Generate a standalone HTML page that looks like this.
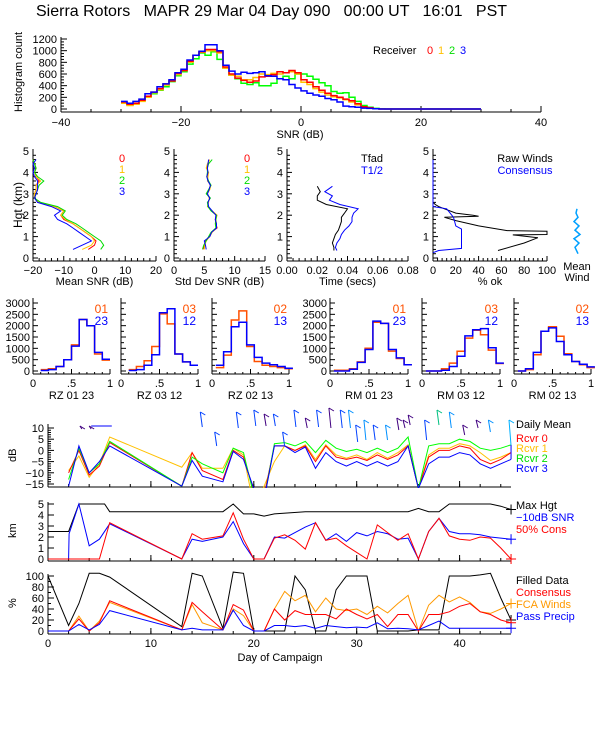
<!DOCTYPE html>
<html><head><meta charset="utf-8"><style>
html,body{margin:0;padding:0;background:#fff;}
svg{display:block;font-family:"Liberation Sans",sans-serif;}
</style></head><body>
<svg id="chart" width="600" height="750" viewBox="0 0 600 750" xmlns="http://www.w3.org/2000/svg">
<rect x="0" y="0" width="600" height="750" fill="#fff"/>
<text x="36" y="16" font-size="16" fill="#000" style="white-space:pre">Sierra Rotors   MAPR 29 Mar 04 Day 090   00:00 UT   16:01   PST</text>
<defs><clipPath id="clipDM"><rect x="48" y="400" width="470" height="88"/></clipPath></defs>
</svg>
<script>
// ---------- DATA ----------
const snrBinStart = -30;
const snrRcvr0 = [120,80,100,150,220,290,350,430,480,610,660,820,920,980,1020,1020,980,720,600,530,490,460,480,550,560,590,640,620,660,620,500,460,380,320,270,230,200,170,140,90,40,20,5,0,0,0,0,0,0,0,0,0,0,0,0,0,0,0,0,0];
const snrRcvr1 = [100,60,80,130,200,280,330,410,490,590,660,800,920,970,1000,1000,960,700,580,560,500,500,540,600,590,610,600,620,640,600,460,420,350,290,240,210,190,160,120,70,30,15,5,0,0,0,0,0,0,0,0,0,0,0,0,0,0,0,0,0];
const snrRcvr2 = [110,70,90,140,200,260,320,380,470,570,640,770,860,960,920,980,850,700,580,520,440,420,450,400,400,440,520,560,520,600,600,560,510,450,400,300,270,280,200,130,60,30,10,5,0,0,0,0,0,0,0,0,0,0,0,0,0,0,0,0];
const snrRcvr3 = [130,100,130,170,260,290,380,430,500,620,680,840,920,990,1100,1100,1000,750,650,600,630,610,620,640,570,560,520,500,420,360,310,270,240,220,180,160,120,50,40,30,15,10,5,0,0,0,0,0,0,0,0,0,0,0,0,0,0,0,0,0];
const snrTicks = [-40,-20,0,20,40];
const countTicks = [0,200,400,600,800,1000,1200];

const profHgt = [0.4,0.6,0.8,1.0,1.2,1.4,1.6,1.8,2.0,2.2,2.4,2.6,2.8,3.0,3.2,3.4,3.6,3.8,4.0,4.2,4.4,4.6];
const meanSnr0 = [-2,0,0.5,-1,-3,-5,-7,-10,-11,-10,-13,-18,-19.5,-19.5,-19,-19,-18,-19,-19.5,-19,-19.5,-20];
const meanSnr1 = [-4,-1,0,-1,-3,-5,-7,-9.5,-11,-10,-13,-18,-19.5,-19.5,-19,-19,-17.5,-19,-19.5,-19,-19.5,-20];
const meanSnr2 = [2,3,2,0,-2,-4,-6,-9,-10.5,-9.5,-12,-17.5,-19.5,-19,-18.5,-18,-16.5,-18.5,-19.5,-19,-19.5,-20];
const meanSnr3 = [-7,-4,-1,-3,-5,-7,-9,-12,-13,-11,-14,-18.5,-19.5,-19,-18.5,-18.5,-18.5,-19.5,-20,-19.5,-20,-19];
const sdSnr0 = [4.8,5.0,5.2,5.8,6.2,7.1,6.9,6.8,7.0,6.2,5.6,5.6,5.9,5.4,5.8,6.0,5.6,5.5,5.6,5.4,5.6,5.8];
const sdSnr1 = [5.0,5.1,5.3,5.9,6.3,7.0,7.0,6.9,7.1,6.3,5.5,5.7,5.8,5.5,5.9,6.1,5.5,5.6,5.7,5.3,5.5,5.9];
const sdSnr2 = [4.7,4.9,5.3,5.7,6.1,6.9,6.8,6.9,7.0,6.1,5.6,5.5,6.0,5.3,5.7,6.1,5.7,5.4,5.5,5.5,5.7,6.3];
const sdSnr3 = [5.3,5.2,5.0,5.9,6.2,7.0,7.0,6.8,6.9,6.3,5.7,5.6,5.9,5.5,5.8,6.0,5.6,5.4,5.6,5.5,5.6,5.7];
const timeHgt = [0.35,0.5,0.7,0.9,1.1,1.3,1.5,1.7,1.9,2.1,2.3,2.5,2.7,2.9,3.1,3.35];
const tfad = [0.031,0.031,0.030,0.031,0.032,0.034,0.035,0.036,0.036,0.038,0.040,0.026,0.020,0.020,0.022,0.020];
const thalf = [0.033,0.032,0.033,0.035,0.036,0.038,0.041,0.043,0.043,0.044,0.047,0.035,0.028,0.030,0.025,0.030];
const rawHgt = [0.35,0.7,0.95,1.08,1.1,1.25,1.28,1.5,1.75,1.9,1.95,2.0,2.1,2.3,2.4,2.5,2.6,3.0,4.6];
const rawWinds = [57,80,92,70,100,100,65,40,20,10,40,35,20,10,5,2,0,0,0];
const consHgt = [0.25,0.35,0.45,0.5,1.35,1.5,1.9,2.3,2.4,2.6,3.5,4.6];
const consWinds = [0,5,25,25,25,20,18,12,0,0,0,0];
const kmTicks = [0,1,2,3,4,5];

const corrBinStart = [0.1,0.1,0.05,0.05,0.05,0.05];
const corrA = [
  [60,100,200,500,1150,2270,2000,750,480],
  [60,200,450,1080,2520,2080,750,400,250],
  [150,700,2250,2650,1080,420,250,200,150,100],
  [30,30,100,400,1000,2150,2100,880,550,280],
  [0,0,100,350,870,1450,1800,1600,920,330],
  [0,60,720,1750,1950,1530,760,420,280,150]];
const corrB = [
  [20,60,200,500,1100,2270,2000,820,520],
  [20,60,250,720,2570,2750,750,400,250],
  [250,850,1950,2150,1150,600,350,280,200,120],
  [0,0,80,380,950,2200,2100,950,580,280],
  [0,0,30,200,650,1550,1820,1870,1030,350],
  [0,100,820,1750,1900,1300,720,420,300,180]];
const corrTitles = ["RZ  01 23","RZ  03 12","RZ  02 13","RM  01 23","RM  03 12","RM  02 13"];
const corrLegA = ["01","03","02","01","03","02"];
const corrLegB = ["23","12","13","23","12","13"];
const corrTicks = [0,500,1000,1500,2000,2500,3000];

const days = [2,3,4,5,6,13,14,15,17,18,19,20,21,22,23,24,25,26,27,28,29,30,31,32,33,34,35,36,37,38,39,40,41,42,43,44,45];
const dm0 = [-10,0,-11,-7,3.5,-16,-1,-9,-13,0,-3,-18,-20,2,2,0,2,-5,2,-3,-4,-3,-4.5,-2,-4,-2,2,-17,-3,0,0,2,1,-4,-6,-4,-1];
const dm1 = [-9,-2.5,-12,-6,6,-7.5,-1,-8,-8,1,-2,-25,-16,-5,2,0,2.5,-4,2.5,-2,-3.5,-2,-4,-1,-3.5,-1,2.5,-17,-2,1,1,3,2,-1,-4.5,-3,-1];
const dm2 = [-13,1,-10,-6,4,-16,-3,-6,-10,1,-1,-20,-22,3,3.5,2,4,-1,4.5,1,-0.5,0.5,-1,1,-1,1,6,-17,2,3,3,5,4,1,0,1,2.5];
const dm3 = [-16,2,-10,-5,2,-16,-4.5,-11.5,-14,-0.5,-4,-17,-22,2,2,-1,1.5,-8,-1,-5,-7,-5,-7,-5,-7,-5,2,-17,-6,-3,-3,-1,-2,-6,-8,-6,-4];
const dbTicks = [-15,-10,-5,0,5,10];

const hgtDays = [0,2,3,5.5,6,17,18,19,20,21,22,25,35,36,37,38,39,43,44,45];
const maxHgt = [2.5,2.5,5,5,4.3,4.3,5,4.1,4.1,3.9,4.1,4.3,4.3,4.6,4.3,4.3,5,5,4.8,4.5];
const snrDays = [0,2,2.05,3,4,5,6,13,14,15,17,18,19,20,21,22,23,24,25,26,27,28,29,30,31,32,33,34,35,36,37,38,39,40,41,42,43,44,45];
const snrHgt = [0,0,2.3,5,1.2,1.8,3.2,0,1.8,1.6,2,3.4,1.4,0,0,2,1.9,2.4,2.9,3.3,1.7,2.3,1.6,2.4,2.1,2.5,2.3,1.8,1.9,0,2.5,3.7,2.5,2.3,2.3,2.2,2.0,1.9,1.8];
const consDays = [0,3,4,5,6,13,14,15,17,18,19,20,21,22,23,24,25,26,27,28,29,30,31,32,33,34,35,36,37,38,39,40,41,42,43,44,45];
const consHgtD = [0,0,0,0,3.3,0,2.3,1.8,2.1,4.2,1.8,0,0,1.9,2.2,1.7,0.9,3.3,1.7,1.9,1.2,0.6,0,3.1,2.4,1.7,2.3,0,2.5,3.7,2.1,1.8,1.7,2.0,1.9,1.0,0];

const pctDays = [0,1,2,3,4,5,6,13,14,15,17,18,19,20,21,22,23,24,25,26,27,28,29,30,31,32,33,34,35,36,37,38,39,40,41,42,43,44,45];
const filled = [100,55,10,50,105,105,98,8,105,100,5,107,105,0,0,0,0,100,75,0,0,75,100,100,100,0,0,0,0,2,2,2,100,100,100,102,105,60,20];
const consPct = [0,0,0,22,0,15,55,2,52,35,2,48,38,0,0,40,20,37,30,30,30,22,40,30,22,30,8,30,30,0,30,30,35,45,50,35,30,20,15];
const fcaPct = [0,0,0,27,0,18,52,2,48,15,2,40,28,0,0,40,72,55,65,35,60,40,37,40,30,45,33,50,65,0,47,65,53,62,52,35,32,40,50];
const precipPct = [0,0,0,12,2,12,37,2,5,2,2,38,10,0,0,10,10,8,10,5,10,8,6,7,6,15,4,5,4,2,10,18,5,5,5,5,5,5,5];
const pctTicks = [0,20,40,60,80,100];
const dayTicks = [0,10,20,30,40];

const barbDay = [3.1,4.0,14.8,16.2,18.3,20.0,21.0,21.9,22.8,23.9,25.0,26.1,27.3,28.4,29.2,29.9,30.7,31.6,32.8,33.9,34.5,35.0,36.6,37.8,39.0,40.3,41.6,42.8,44.8];
const barbTop = [426,426,412,432,412,410,414,414,432,410,418,410,408,410,410,425,420,425,425,418,420,415,420,410,412,425,420,420,420];
const barbBot = [429,429,427,446,428,426,426,426,446,427,428,427,428,428,428,442,440,440,440,430,428,425,440,425,428,435,428,432,445];
const barbCol = ["#400080","#400080","#0040ff","#0040ff","#0040ff","#0040ff","#400080","#0040ff","#0040ff","#0040ff","#400080","#0040ff","#400080","#0040ff","#0090ff","#0040ff","#0090ff","#0040ff","#0090ff","#400080","#400080","#400080","#0040ff","#00c080","#0090ff","#400080","#400080","#0090ff","#00b0ff"];

const windHgt = [0.2,0.5,0.7,0.9,1.1,1.3,1.5,1.7,1.9,2.1,2.3];
const windOff = [1,-2,2,-3,3,-2,2,-3,1,-1,0];

// ---------- DRAWING ----------
const NS = "http://www.w3.org/2000/svg";
const svg = document.getElementById('chart');
function mk(tag, attrs, parent){ const e=document.createElementNS(NS,tag); for(const k in attrs) e.setAttribute(k,attrs[k]); (parent||svg).appendChild(e); return e; }
function txt(x,y,s,anchor,color,size,rot){ const e=mk('text',{x:x,y:y,'font-size':size||11,fill:color||'#000','text-anchor':anchor||'start'}); if(rot) e.setAttribute('transform','rotate(-90 '+x+' '+y+')'); e.textContent=s; return e; }
function ln(x1,y1,x2,y2,c,w){ return mk('line',{x1:x1,y1:y1,x2:x2,y2:y2,stroke:c||'#000','stroke-width':w||1}); }
function poly(xs,ys,fx,fy,c,w,parent){ let p=''; for(let i=0;i<xs.length;i++) p+=fx(xs[i]).toFixed(1)+','+fy(ys[i]).toFixed(1)+' '; return mk('polyline',{points:p,fill:'none',stroke:c,'stroke-width':w||1},parent); }
function stepPath(start,w,vals,fx,fy,c,sw){ let d='M'+fx(start).toFixed(1)+','+fy(vals[0]).toFixed(1); for(let i=0;i<vals.length;i++){ if(i>0) d+=' V'+fy(vals[i]).toFixed(1); d+=' H'+fx(start+(i+1)*w).toFixed(1);} return mk('path',{d:d,fill:'none',stroke:c,'stroke-width':sw||1.5}); }
function plus(x,y,c){ ln(x-5,y,x+5,y,c); ln(x,y-5,x,y+5,c); }

// --- top histogram ---
const hx = v=>61+(v+40)*6, hy = c=>109-c*70/1200;
let e;
e=ln(61,112,541,112);  
e=ln(61,112,61,37);  
for(let v=-40;v<=40;v+=5) ln(hx(v),112,hx(v),v%20===0?106:109);
snrTicks.forEach(v=>{ e=txt(hx(v),126,String(v).replace('-','\u2212'),'middle');   });
for(let c=0;c<=1200;c+=50) ln(61,hy(c),c%200===0?67:64,hy(c));
countTicks.forEach(c=>{ e=txt(57,hy(c)+4,String(c),'end');   });
e=txt(300,138,'SNR (dB)','middle');  
e=txt(22,112,'Histogram count','start','#000',11,true);  
[[snrRcvr2,'#00ff00'],[snrRcvr1,'#ffc000'],[snrRcvr0,'#ff0000'],[snrRcvr3,'#0000ff']].forEach((s,i)=>{ e=stepPath(snrBinStart,1,s[0],hx,hy,s[1],1.5);   });
e=txt(373,54,'Receiver','start');  
[['0','#ff0000'],['1','#ffc000'],['2','#00dd00'],['3','#0000ff']].forEach((l,i)=>{ e=txt(427+i*11,54,l[0],'start',l[1]);   });

// --- profile panels ---
const py = h=>258-h*107/5;
function profAxes(x0,x1,xt,xl,fx,title,showHgt){
  e=ln(x0,261,x1,261);  
  e=ln(x0,261,x0,149);  
  for(let h=0;h<=5;h+=0.2){ const maj=Math.abs(h-Math.round(h))<0.01; ln(x0,py(h),x0+(maj?5:3),py(h)); }
  kmTicks.forEach(h=>{ e=txt(x0-4,py(h)+4,String(h),'end');   });
  xt.forEach((v,i)=>{ ln(fx(v),261,fx(v),256); e=txt(fx(v),274,xl[i],'middle');   });
  for(let i=0;i<xt.length-1;i++){ for(let k=1;k<5;k++){ const v=xt[i]+(xt[i+1]-xt[i])*k/5; ln(fx(v),261,fx(v),258);} }
  e=txt((x0+x1)/2,285,title,'middle');  
}
const p1x=v=>33+(v+20)*123/40, p2x=v=>174+v*91/15, p3x=v=>287+v*121/0.08, p4x=v=>433+v*1.14;
profAxes(33,156,[-20,-10,0,10,20],['\u221220','\u221210','0','10','20'],p1x,'Mean SNR (dB)');
profAxes(174,265,[0,5,10,15],['0','5','10','15'],p2x,'Std Dev SNR (dB)');
profAxes(287,408,[0,0.02,0.04,0.06,0.08],['0.00','0.02','0.04','0.06','0.08'],p3x,'Time (secs)');
profAxes(433,547,[0,20,40,60,80,100],['0','20','40','60','80','100'],p4x,'% ok');
e=txt(22,228,'Hgt (km)','start','#000',12,true);  
const rc=['#ff0000','#ffc000','#00dd00','#0000ff'];
[meanSnr0,meanSnr1,meanSnr2,meanSnr3].forEach((s,i)=>{ e=poly(s,profHgt,p1x,py,rc[i],1);   });
[sdSnr0,sdSnr1,sdSnr2,sdSnr3].forEach((s,i)=>{ e=poly(s,profHgt,p2x,py,rc[i],1);   });
['0','1','2','3'].forEach((l,i)=>{ e=txt(122,162+i*11,l,'middle',rc[i]);  
  e=txt(247,162+i*11,l,'middle',rc[i]);   });
e=poly(tfad,timeHgt,p3x,py,'#000',1);  
e=poly(thalf,timeHgt,p3x,py,'#0000ff',1);  
e=txt(372,162,'Tfad','middle');  
e=txt(372,174,'T1/2','middle','#0000ff');  
e=poly(rawWinds,rawHgt,p4x,py,'#000',1);  
e=poly(consWinds,consHgt,p4x,py,'#0000ff',1);  
e=txt(525,162,'Raw Winds','middle');  
e=txt(525,174,'Consensus','middle','#0000ff');  
e=poly(windOff,windHgt,v=>577+v,py,'#00a0ff',1.5);  
e=txt(577,270,'Mean','middle');  
e=txt(577,281,'Wind','middle');  

// --- correlation histograms ---
const cX0=[33,121,212,330,422,514], cX1=[110,198,289,408,500,591];
const cy = v=>371-v*68/3000;
for(let p=0;p<6;p++){
  const x0=cX0[p], x1=cX1[p], fx=v=>x0+v*(x1-x0);
  e=ln(x0,374,x1,374);  
  e=ln(x0,374,x0,298);  
  for(let v=0;v<=3000;v+=250) ln(x0,cy(v),x0+(v%500===0?5:3),cy(v));
  if(p===0||p===3) corrTicks.forEach(v=>{ e=txt(x0-3,cy(v)+4,String(v),'end');   });
  [[0,'0'],[0.5,'.5'],[1,'1']].forEach(t=>{ ln(fx(t[0]),374,fx(t[0]),369); e=txt(fx(t[0]),387,t[1],'middle');   });
  for(let v=0.1;v<1;v+=0.1) ln(fx(v),374,fx(v),372);
  e=txt((x0+x1)/2,399,corrTitles[p],'middle');  
  e=stepPath(corrBinStart[p],0.1,corrA[p],fx,cy,'#ff5000',1.5);  
  e=stepPath(corrBinStart[p],0.1,corrB[p],fx,cy,'#0000ff',1.5);  
  e=txt(x1-2,313,corrLegA[p],'end','#ff5000',12);  
  e=txt(x1-2,325,corrLegB[p],'end','#0000ff',12);  
}

// --- daily panels ---
const dx = d=>48+d*10.29;
function dayAxis(y,labels){
  e=ln(48,y,511,y);  
  for(let d=0;d<=45;d+=2) ln(dx(d),y,dx(d),y-3);
  dayTicks.forEach(d=>{ ln(dx(d),y,dx(d),y-6); if(labels){ e=txt(dx(d),y+13,String(d),'middle');   } });
}
// daily mean
const dmy = v=>428+(10-v)*56/25;
dayAxis(487,false);
e=ln(48,487,48,424);  
for(let v=-15;v<=10;v+=1) ln(48,dmy(v),48+(v%5===0?6:3),dmy(v));
dbTicks.forEach(v=>{ e=txt(44,dmy(v)+4,String(v).replace('-','\u2212'),'end');   });
e=txt(16,462,'dB','start','#000',11,true);  
const gDM = mk('g',{'clip-path':'url(#clipDM)'});


[[dm1,'#ffc000'],[dm0,'#ff0000'],[dm2,'#00ff00'],[dm3,'#0000ff']].forEach(s=>{ e=poly(days,s[0],dx,dmy,s[1],1,gDM);   });
ln(dx(45),dmy(dm3[dm3.length-1]),dx(45),dmy(dm2[dm2.length-1]),'#0000ff');
for(let i=0;i<barbDay.length;i++){
  e=ln(dx(barbDay[i]),barbTop[i],dx(barbDay[i])+2,barbBot[i],barbCol[i],1);  
  ln(dx(barbDay[i]),barbTop[i],dx(barbDay[i])+5,barbTop[i]+3,barbCol[i],1);
}
ln(dx(4.2),426,dx(6.2),426,'#0000ff');
e=txt(516,428,'Daily Mean','start');  
['Rcvr 0','Rcvr 1','Rcvr 2','Rcvr 3'].forEach((l,i)=>{ e=txt(516,442+i*10,l,'start',['#ff0000','#ffc000','#00dd00','#0000ff'][i]);   });

// km
const ky = k=>559-k*11;
dayAxis(561,false);
e=ln(48,561,48,502);  
kmTicks.forEach(k=>{ ln(48,ky(k),54,ky(k)); e=txt(44,ky(k)+4,String(k),'end');   });
e=txt(16,538,'km','start','#000',11,true);  
e=poly(hgtDays,maxHgt,dx,ky,'#000',1);  
e=poly(snrDays,snrHgt,dx,ky,'#0000ff',1);  
e=poly(consDays,consHgtD,dx,ky,'#ff0000',1);  
plus(dx(45),ky(maxHgt[maxHgt.length-1]),'#000'); plus(dx(45),ky(snrHgt[snrHgt.length-1]),'#0000ff'); plus(dx(45),ky(consHgtD[consHgtD.length-1]),'#ff0000');
e=txt(516,509,'Max Hgt','start');  
e=txt(516,521,'\u221210dB SNR','start','#0000ff');  
e=txt(516,533,'50% Cons','start','#ff0000');  

// percent
const qy = p=>631-p*0.55;
dayAxis(634,true);
e=ln(48,634,48,574);  
for(let p=0;p<=100;p+=10) ln(48,qy(p),48+(p%20===0?6:3),qy(p));
pctTicks.forEach(p=>{ e=txt(44,qy(p)+4,String(p),'end');   });
e=txt(16,608,'%','start','#000',11,true);  
e=txt(280,661,'Day of Campaign','middle');  
[[filled,'#000','filled-data-line'],[fcaPct,'#ff9900','fca-winds-line'],[consPct,'#ff0000','consensus-pct-line'],[precipPct,'#0000ff','pass-precip-line']].forEach(s=>{
  e=poly(pctDays,s[0],dx,qy,s[1],1);  
  plus(dx(45),qy(s[0][s[0].length-1]),s[1]);
});
e=txt(516,584,'Filled Data','start');  
e=txt(516,596,'Consensus','start','#ff0000');  
e=txt(516,608,'FCA Winds','start','#ff9900');  
e=txt(516,620,'Pass Precip','start','#0000ff');  
</script>
</body></html>
